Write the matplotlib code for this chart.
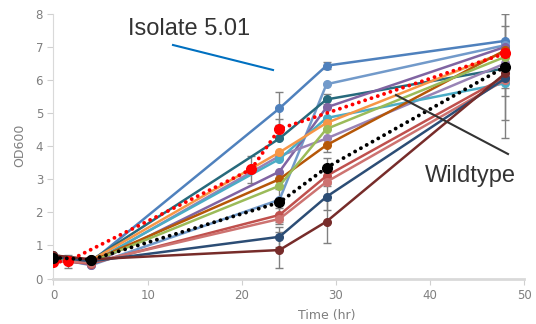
import numpy as np
import matplotlib
matplotlib.use("Agg")
import matplotlib.pyplot as plt

# tempos de coleta (hr)
time = [0, 4, 24, 29, 48]
time_red = [0, 1.5, 21, 24, 48]

# isolados (cores no estilo Excel)
colors = ["#4F81BD", "#729ACA", "#276A7C", "#8064A2", "#9983B5", "#4BACC6", "#F79646",
          "#B65708", "#9BBB59", "#C0504D", "#CD7371", "#2C4D75", "#772C2A"]
values = [
    [0.65, 0.50, 5.14, 6.43, 7.18],   # Isolate 5.01
    [0.62, 0.40, 2.38, 5.87, 7.05],
    [0.70, 0.55, 4.23, 5.41, 6.35],
    [0.60, 0.42, 3.23, 5.17, 7.00],
    [0.58, 0.45, 3.70, 4.23, 6.50],
    [0.55, 0.48, 3.61, 4.85, 5.90],
    [0.62, 0.55, 3.81, 4.70, 6.85],
    [0.60, 0.52, 3.00, 4.03, 6.90],
    [0.58, 0.50, 2.80, 4.52, 6.70],
    [0.55, 0.45, 1.92, 3.10, 6.10],
    [0.52, 0.48, 1.80, 2.92, 6.00],
    [0.65, 0.52, 1.26, 2.47, 6.05],
    [0.70, 0.58, 0.86, 1.72, 6.20],
]
errors = [
    [0.05, 0.05, 0.50, 0.10, 0.45],
    [0, 0, 0, 0, 0],
    [0, 0, 0, 0.15, 0],
    [0, 0, 0, 0, 0],
    [0, 0, 0, 0, 0],
    [0, 0, 0, 0, 0.40],
    [0, 0, 0, 0, 0],
    [0, 0, 0, 0.20, 0],
    [0, 0, 0, 0, 0],
    [0, 0, 0.20, 0.30, 0],
    [0, 0, 0.15, 0, 0],
    [0.05, 0.05, 0.30, 0.40, 0.30],
    [0.05, 0.05, 0.55, 0.65, 1.95],
]

# controles
red_values = [0.50, 0.52, 3.30, 4.52, 6.80]
red_errors = [0.05, 0.20, 0.40, 0.30, 0.30]
wild_values = [0.63, 0.57, 2.30, 3.35, 6.40]
wild_errors = [0.08, 0.05, 0.40, 0.30, 1.60]

fig = plt.figure(figsize=(5.36, 3.24), dpi=100)
ax = fig.add_axes([0.0998, 0.1404, 0.8782, 0.8173])

for c, v, e in zip(colors, values, errors):
    ax.errorbar(time, v, yerr=e, fmt="none", ecolor="#808080", elinewidth=1,
                capsize=3, capthick=1, zorder=2)
    ax.plot(time, v, "-o", color=c, lw=1.8, ms=5.5, zorder=3)

dots = (0, (0.01, 1.7))
ax.errorbar(time_red, red_values, yerr=red_errors, fmt="none", ecolor="#808080",
            elinewidth=1, capsize=3, capthick=1, zorder=2)
ax.plot(time_red, red_values, color="red", lw=2.8, ls=dots,
        dash_capstyle="round", marker="o", ms=7, zorder=4)
ax.errorbar(time, wild_values, yerr=wild_errors, fmt="none", ecolor="#808080",
            elinewidth=1, capsize=3, capthick=1, zorder=2)
ax.plot(time, wild_values, color="black", lw=2.8, ls=dots,
        dash_capstyle="round", marker="o", ms=7, zorder=4)

ax.set_xlim(0, 50)
ax.set_ylim(0, 8)
ax.set_xticks([0, 10, 20, 30, 40, 50])
ax.set_yticks(range(0, 9))
for s in ["top", "right"]:
    ax.spines[s].set_visible(False)
ax.spines["left"].set_color("#d9d9d9")
ax.spines["bottom"].set_color("#d9d9d9")
ax.spines["bottom"].set_linewidth(2)
ax.tick_params(colors="#d0d0d0", labelcolor="#7f7f7f", labelsize=8.5, length=4)

fig.text(0.037, 0.55, "OD600", rotation=90, color="#7f7f7f", fontsize=9,
         ha="center", va="center")
fig.text(0.61, 0.025, "Time (hr)", color="#7f7f7f", fontsize=9, ha="center", va="center")

# anotacoes
fig.text(128 / 536, 1 - 35 / 324, "Isolate 5.01", fontsize=17, color="#333333",
         family="Liberation Sans", ha="left", va="baseline")
fig.add_artist(plt.Line2D([173 / 536, 273 / 536], [1 - 45 / 324, 1 - 70 / 324],
                          color="#0070C0", lw=1.5))
fig.text(425 / 536, 1 - 182 / 324, "Wildtype", fontsize=17, color="#333333",
         family="Liberation Sans", ha="left", va="baseline")
fig.add_artist(plt.Line2D([396 / 536, 508 / 536], [1 - 95 / 324, 1 - 154 / 324],
                          color="#333333", lw=1.5))

fig.savefig("out.png", dpi=100)
